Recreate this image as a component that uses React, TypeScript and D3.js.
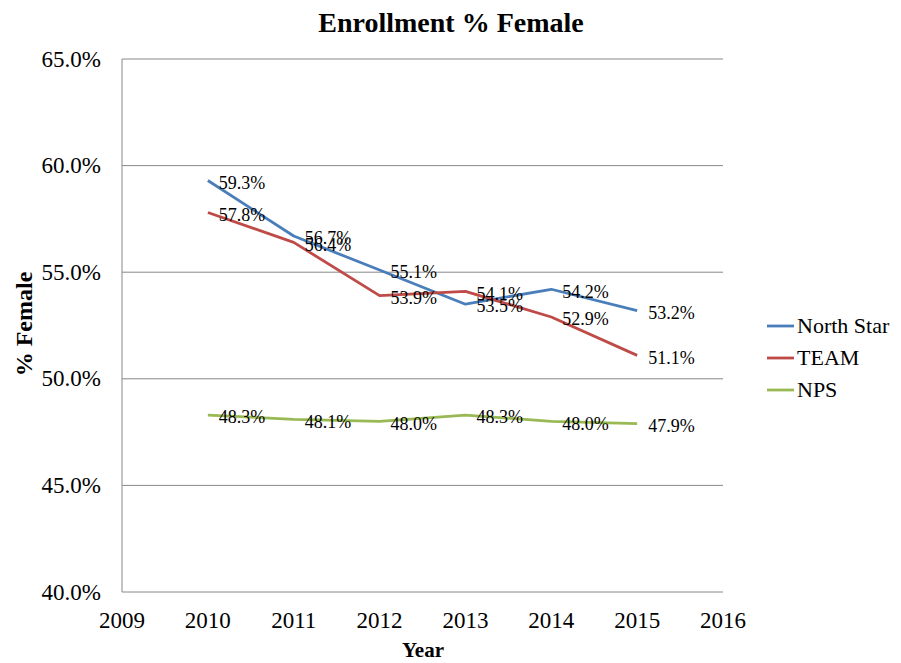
import React from "react";
import * as d3 from "d3";

const years = [2010, 2011, 2012, 2013, 2014, 2015];
const northStar = [59.3, 56.7, 55.1, 53.5, 54.2, 53.2];
const team = [57.8, 56.4, 53.9, 54.1, 52.9, 51.1];
const nps = [48.3, 48.1, 48.0, 48.3, 48.0, 47.9];
const seriesNames = ["North Star", "TEAM", "NPS"];
const seriesColors = ["#4A7EBB", "#BE4B48", "#98B954"];
const xTicks = [2009, 2010, 2011, 2012, 2013, 2014, 2015, 2016];
const yTicks = [40, 45, 50, 55, 60, 65];

const W = 901;
const H = 663;
const FONT = "'Liberation Serif', 'Times New Roman', serif";

export default function App() {
  const left = 122, right = 723, top = 59, bottom = 592;
  const x = d3.scaleLinear().domain([2009, 2016]).range([left, right]);
  const y = d3.scaleLinear().domain([40, 65]).range([bottom, top]);
  const line = d3
    .line<number>()
    .x((_, i) => x(years[i]))
    .y((d) => y(d));
  const allSeries = [northStar, team, nps];

  return (
    <svg
      width={W}
      height={H}
      style={{ position: "absolute", left: 0, top: 0, background: "#fff", fontFamily: FONT }}
    >
      <rect x={0} y={0} width={W} height={H} fill="#fff" />
      <text x={451} y={32} textAnchor="middle" fontSize={28} fontWeight="bold" fontFamily={FONT}>
        Enrollment % Female
      </text>
      {yTicks.map((t) => (
        <g key={t}>
          <line x1={left} x2={right} y1={y(t)} y2={y(t)} stroke="#888" strokeWidth={1} />
          <text x={101} y={y(t)} dy="0.33em" textAnchor="end" fontSize={23} fontFamily={FONT}>
            {t.toFixed(1)}%
          </text>
        </g>
      ))}
      <line x1={left} x2={left} y1={top} y2={bottom} stroke="#888" strokeWidth={1} />
      {xTicks.map((t) => (
        <text key={t} x={x(t)} y={628} textAnchor="middle" fontSize={23} fontFamily={FONT}>
          {t}
        </text>
      ))}
      <text x={423} y={657} textAnchor="middle" fontSize={21} fontWeight="bold" fontFamily={FONT}>
        Year
      </text>
      <text
        transform={`translate(32,324) rotate(-90)`}
        textAnchor="middle"
        fontSize={24}
        fontWeight="bold"
        fontFamily={FONT}
      >
        % Female
      </text>
      {allSeries.map((s, si) => (
        <path
          key={si}
          d={line(s) || ""}
          fill="none"
          stroke={seriesColors[si]}
          strokeWidth={2.8}
          strokeLinejoin="round"
        />
      ))}
      {allSeries.map((s, si) =>
        s.map((v, i) => (
          <text
            key={`${si}-${i}`}
            x={x(years[i]) + 11}
            y={y(v) + 2}
            dy="0.35em"
            fontSize={18}
            fontFamily={FONT}
          >
            {v.toFixed(1)}%
          </text>
        ))
      )}
      {seriesNames.map((n, i) => (
        <g key={n}>
          <line
            x1={767}
            x2={794}
            y1={326 + i * 32}
            y2={326 + i * 32}
            stroke={seriesColors[i]}
            strokeWidth={2.8}
          />
          <text x={797} y={326 + i * 32} dy="0.33em" fontSize={22} fontFamily={FONT}>
            {n}
          </text>
        </g>
      ))}
    </svg>
  );
}
